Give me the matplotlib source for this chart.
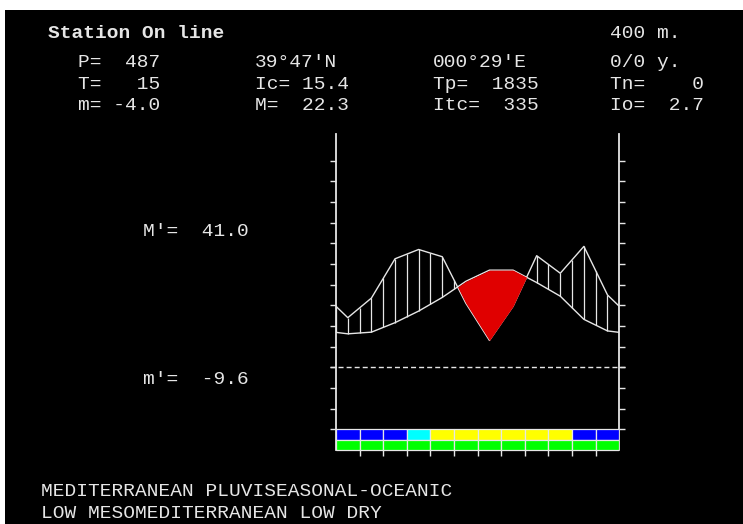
import numpy as np
import matplotlib
matplotlib.use("Agg")
import matplotlib.pyplot as plt
from matplotlib.patches import Rectangle

W, H = 743, 524
FG   = "#E6E6E6"
MONO = "Liberation Mono"

# ── données ──
MONTHS = ["Jan", "Feb", "Mar", "Apr", "May", "Jun",
          "Jul", "Aug", "Sep", "Oct", "Nov", "Dec"]
temp = [8.1, 8.5, 10.8, 13.6, 16.9, 20.8, 23.5, 23.5, 20.5, 17.2, 11.6, 8.8]
prec = [24.0, 33.5, 52.5, 57.0, 53.5, 31.0, 13.0, 29.5, 54.0, 45.5, 58.5, 35.0]
row1_class = ["H", "H", "H", "S", "D", "D", "D", "D", "D", "D", "H", "H"]
row2_class = ["V"] * 12
CLASS_COLORS = {"H": "#0000FF", "S": "#00FFFF", "D": "#FFFF00", "V": "#00FF00"}

title    = "Station On line"
altitude = "400 m."
header = [
    ["P=  487", "39°47'N",  "000°29'E",  "0/0 y."],
    ["T=   15", "Ic= 15.4", "Tp=  1835", "Tn=    0"],
    ["m= -4.0", "M=  22.3", "Itc=  335", "Io=  2.7"],
]
m_abs_max = "M'=  41.0"
m_abs_min = "m'=  -9.6"
footer = ["MEDITERRANEAN PLUVISEASONAL-OCEANIC",
          "LOW MESOMEDITERRANEAN LOW DRY"]

# ── figure ──
fig = plt.figure(figsize=(W / 100, H / 100), dpi=100, facecolor="white")
fig.patches.append(Rectangle((5 / W, 0), 1, 1 - 10 / H, transform=fig.transFigure,
                             facecolor="black", edgecolor="none", zorder=-10))

def ftext(px, py, s, **kw):
    fig.text(px / W, 1 - py / H, s, fontsize=14, family=MONO, color=FG,
             ha="left", va="baseline", **kw)

# axe : 0 °C à y=367.3 px, 5 °C = 20.67 px
PX5 = 20.67
y_top = (367.3 - 134) / PX5 * 5
y_bot = -(460 - 367.3) / PX5 * 5
ax = fig.add_axes([336 / W, (H - 460) / H, (619.3 - 336) / W, (460 - 134) / H])
ax.set_facecolor("none")
ax.set_xlim(0, 12)
ax.set_ylim(y_bot, y_top)

for side in ["left", "right"]:
    ax.spines[side].set_color(FG)
    ax.spines[side].set_linewidth(1.3)
    ax.spines[side].set_bounds(-20, y_top)
ax.spines["top"].set_visible(False)
ax.spines["bottom"].set_visible(False)
ax.spines["bottom"].set_position(("data", -20))

ax.set_yticks(np.arange(-15, 51, 5))
ax.set_xticks(np.arange(1, 12))
ax.tick_params(axis="y", left=True, right=True, direction="out", length=4.5,
               width=1, color=FG, labelleft=False, labelright=False)
ax.tick_params(axis="x", bottom=True, direction="out", length=4.5,
               width=1, color=FG, labelbottom=False)

# courbes (bouclage déc./janv. aux bords)
x_ext = np.arange(-0.5, 12.6, 1.0)
t_ext = np.array([temp[-1]] + temp + [temp[0]])
p_ext = np.array([prec[-1]] + prec + [prec[0]]) / 2

ax.plot(x_ext, p_ext, color=FG, lw=1.0, zorder=3)
ax.plot(x_ext, t_ext, color=FG, lw=1.0, zorder=3)

# hachures verticales (période humide)
xs = np.arange(0, 12.01, 0.5)
ts = np.interp(xs, x_ext, t_ext)
ps = np.interp(xs, x_ext, p_ext)
wet = ps > ts
ax.vlines(xs[wet], ts[wet], ps[wet], color=FG, lw=0.9, zorder=3)

# période sèche
xf = np.linspace(0, 12, 1201)
tf = np.interp(xf, x_ext, t_ext)
pf = np.interp(xf, x_ext, p_ext)
ax.fill_between(xf, pf, tf, where=tf > pf, interpolate=True,
                color="#E00000", lw=0, zorder=4)

# ligne 0 °C
ax.axhline(0, xmin=-0.021, xmax=1.024, color=FG, lw=1.0,
           dashes=(3.6, 2.2), clip_on=False, zorder=2)

# bandes mensuelles
xc = np.arange(12) + 0.5
ax.bar(xc, 2.5, bottom=-17.5, width=1, color=[CLASS_COLORS[c] for c in row1_class],
       edgecolor=FG, lw=0.9, zorder=5)
ax.bar(xc, 2.5, bottom=-20, width=1, color=[CLASS_COLORS[c] for c in row2_class],
       edgecolor=FG, lw=0.9, zorder=5)

# ── textes ──
ftext(48, 37.8, title, fontweight="bold")
ftext(610, 37.8, altitude)
cols = [78, 255, 433, 610]
rows = [67.2, 88.8, 110.5]
for r, line in zip(rows, header):
    for c, s in zip(cols, line):
        ftext(c, r, s)

ftext(143, 236.5, m_abs_max)
ftext(143, 384.5, m_abs_min)

ftext(41, 496, footer[0])
ftext(41, 517.5, footer[1])

fig.savefig("out.png", dpi=100, facecolor=fig.get_facecolor())
